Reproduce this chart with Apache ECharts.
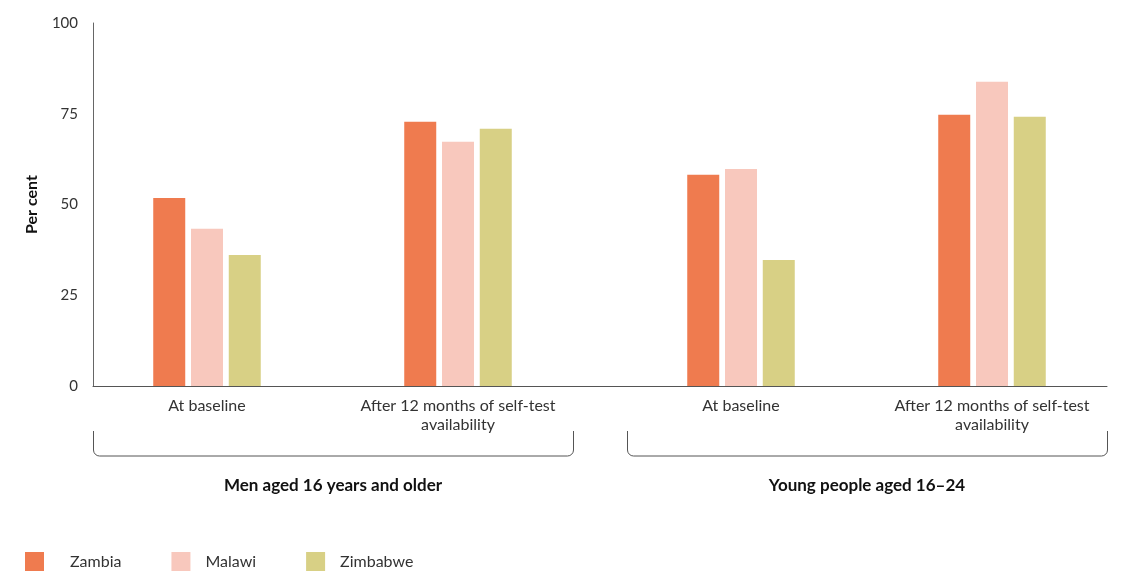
<!DOCTYPE html>
<html>
<head>
<meta charset="utf-8">
<script src="https://cdn.jsdelivr.net/npm/echarts@6/dist/echarts.min.js"></script>
<style>
html,body{margin:0;padding:0;background:#fff;}
#c{width:1122px;height:572px;}
</style>
</head>
<body>
<div id="c"></div>
<script>
const categories = ['At baseline', 'After 12 months of self-test\navailability'];
const groups = ['Men aged 16 years and older', 'Young people aged 16\u201324'];
const seriesNames = ['Zambia', 'Malawi', 'Zimbabwe'];
const yTicks = [0, 25, 50, 75, 100];
// values per country: [men baseline, men after 12m, young baseline, young after 12m]
const zambia = [51.8, 72.8, 58.2, 74.7];
const malawi = [43.3, 67.3, 59.8, 83.8];
const zimbabwe = [36.1, 70.9, 34.7, 74.2];

const colors = ['#EF7B4F', '#F8C8BD', '#D8D085'];
const valuesByCountry = [zambia, malawi, zimbabwe];
const FONT = 'Lato';

const chart = echarts.init(document.getElementById('c'), null, {renderer: 'canvas'});

const series = [];
valuesByCountry.forEach((vals, i) => {
  [0, 1].forEach(g => {
    series.push({
      name: seriesNames[i],
      type: 'bar',
      xAxisIndex: g + 1,
      yAxisIndex: g + 1,
      data: vals.slice(g * 2, g * 2 + 2),
      barWidth: 32,
      barGap: '18%',
      itemStyle: {color: colors[i]},
      emphasis: {disabled: true}
    });
  });
});

function bracket(x1, x2) {
  const y1 = 431, y2 = 456, r = 6;
  const st = {stroke: '#555', lineWidth: 1, fill: null};
  return [
    {type: 'line', shape: {x1: x1, y1: y1, x2: x1, y2: y2 - r}, style: st, silent: true},
    {type: 'line', shape: {x1: x1 + r, y1: y2, x2: x2 - r, y2: y2}, style: st, silent: true},
    {type: 'line', shape: {x1: x2, y1: y1, x2: x2, y2: y2 - r}, style: st, silent: true},
    {type: 'arc', shape: {cx: x1 + r, cy: y2 - r, r: r, startAngle: Math.PI / 2, endAngle: Math.PI, clockwise: true}, style: st, silent: true},
    {type: 'arc', shape: {cx: x2 - r, cy: y2 - r, r: r, startAngle: 0, endAngle: Math.PI / 2, clockwise: true}, style: st, silent: true}
  ];
}

const catLabel = {color: '#333', fontSize: 16, lineHeight: 19, margin: 10, fontFamily: FONT, interval: 0};
const legendPads = [21, 10, 10];

const option = {
  backgroundColor: '#fff',
  animation: false,
  textStyle: {fontFamily: FONT},
  grid: [
    {left: 93, right: 15, top: 23, bottom: 186},
    {left: 81.5, width: 502, top: 23, bottom: 186},
    {left: 615.5, width: 502, top: 23, bottom: 186}
  ],
  xAxis: [
    {gridIndex: 0, type: 'value', min: 0, max: 1, axisLine: {show: true, onZero: false, lineStyle: {color: '#555', width: 1}},
     axisTick: {show: false}, axisLabel: {show: false}, splitLine: {show: false}},
    {gridIndex: 1, type: 'category', data: categories, axisLine: {show: false}, axisTick: {show: false}, axisLabel: catLabel},
    {gridIndex: 2, type: 'category', data: categories, axisLine: {show: false}, axisTick: {show: false}, axisLabel: catLabel}
  ],
  yAxis: [
    {gridIndex: 0, type: 'value', min: yTicks[0], max: yTicks[yTicks.length - 1], interval: 25,
     name: 'Per cent', nameLocation: 'middle', nameGap: 53, nameRotate: 90,
     nameTextStyle: {fontWeight: 'bold', fontSize: 16, color: '#111', fontFamily: FONT},
     axisLine: {show: true, lineStyle: {color: '#666', width: 1}}, axisTick: {show: false},
     axisLabel: {color: '#333', fontSize: 15, margin: 15, fontFamily: FONT}, splitLine: {show: false}},
    {gridIndex: 1, type: 'value', min: 0, max: 100, show: false},
    {gridIndex: 2, type: 'value', min: 0, max: 100, show: false}
  ],
  legend: {
    left: 25, top: 552, padding: 0, itemWidth: 19, itemHeight: 19, itemGap: 50, icon: 'rect',
    data: seriesNames.map((n, i) => ({name: n, textStyle: {padding: [0, 0, 0, legendPads[i]]}})),
    textStyle: {color: '#333', fontSize: 16, fontFamily: FONT},
    selectedMode: false
  },
  graphic: [].concat(
    bracket(93.5, 573.5),
    bracket(627.5, 1107.5),
    [
      {type: 'text', x: 333, y: 486, style: {text: groups[0], fill: '#111', font: `bold 17px ${FONT}`, textAlign: 'center', textVerticalAlign: 'middle'}},
      {type: 'text', x: 867, y: 486, style: {text: groups[1], fill: '#111', font: `bold 17px ${FONT}`, textAlign: 'center', textVerticalAlign: 'middle'}}
    ]
  ),
  series: series
};
chart.setOption(option);
</script>
</body>
</html>
